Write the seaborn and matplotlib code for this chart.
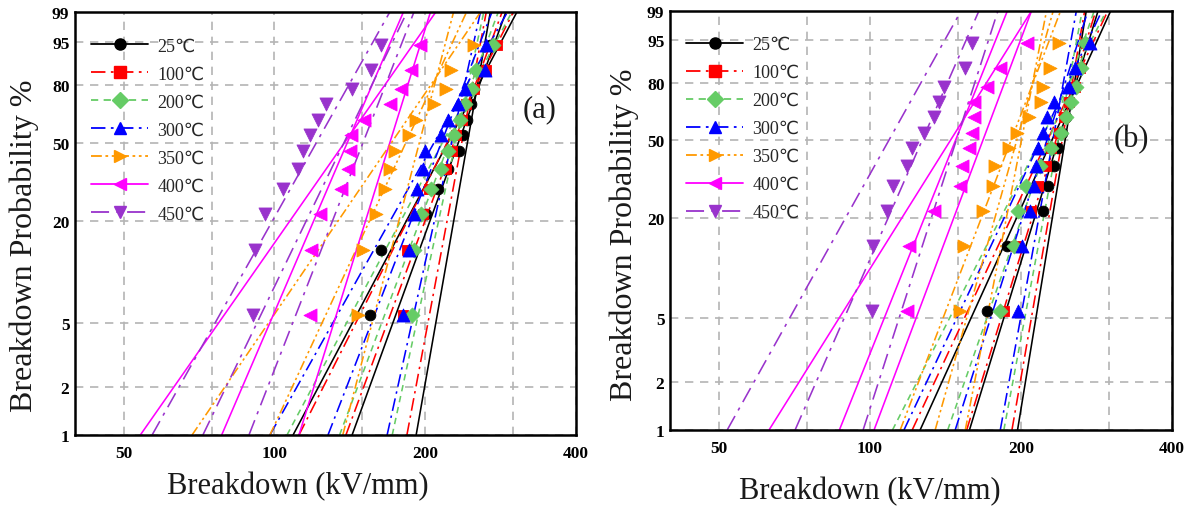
import numpy as np
import matplotlib
matplotlib.use("Agg")
import matplotlib.pyplot as plt
import seaborn as sns
from matplotlib.lines import Line2D
from matplotlib.ticker import FixedLocator, NullFormatter, NullLocator

# ---------------- data ----------------
labels = ["25℃", "100℃", "200℃", "300℃", "350℃", "400℃", "450℃"]
F_pts = [5.6, 13.7, 21.8, 29.8, 37.9, 46.0, 54.0, 62.1, 70.2, 78.2, 86.3, 94.4]
F_line = [1, 99]

# panel (a) breakdown points (kV/mm)
a25 = [155, 163.5, 201, 212, 222, 234, 238, 243, 247, 251, 260, 270]
a100 = [181, 184, 198, 204, 220, 226, 231, 237, 241, 250, 265, 278]
a200 = [188, 190, 196, 206, 215, 222, 228, 235, 240, 248, 253, 273]
a300 = [181, 186, 190, 193, 198, 200, 215, 222, 233, 240, 263, 265]
a350 = [146.9, 150.3, 159.8, 166, 170, 174, 186.2, 191.9, 208.8, 220.3, 225.5, 250.9]
a400 = [117.6, 118.5, 123.2, 136, 140.3, 141.8, 142.4, 151.4, 170.6, 179.2, 187.6, 195.5]
a450 = [90.7, 91.4, 95.7, 104, 111.5, 114.1, 117.6, 122.2, 127, 143.1, 156.2, 163.5]

# panel (a) fitted / bound lines, x at F = 1 % and 99 %
a25_lines = [[109, 305], [143, 290], [192, 270]]
a100_lines = [[112, 300], [139, 285], [184, 265]]
a200_lines = [[106, 298], [135, 280], [172, 262]]
a300_lines = [[98, 292], [128, 272], [168, 258]]
a350_lines = [[68.5, 258], [98, 242], [137, 228]]
a400_lines = [[54, 210], [78.5, 181], [112, 205]]
a450_lines = [[57, 170], [72, 184], [89, 190]]

# panel (b) breakdown points (kV/mm)
b25 = [171, 187.5, 221, 227, 233, 237, 242, 246, 250, 255, 262, 270]
b100 = [185, 196, 210, 216, 224, 230, 238, 244, 250, 256, 262, 270]
b200 = [182, 194, 197, 205, 218, 230, 240, 246, 252, 258, 264, 268]
b300 = [197, 201, 209, 212, 214, 216, 221, 226, 233, 249, 256, 275]
b350 = [151.4, 153.8, 168.5, 176.4, 178, 189, 196.4, 207.2, 219, 221, 228.9, 237.8]
b400 = [118.6, 119.5, 134, 151.4, 152.6, 157.4, 159.8, 161, 161.5, 171.1, 181.9, 205.6]
b450 = [100.9, 101.7, 108.2, 111.5, 118.6, 121.3, 128, 134, 137.1, 140.7, 155, 159.8]

# panel (b) lines, x at F = 1 % and 99 %
b25_lines = [[126, 302], [158, 285], [197, 270]]
b100_lines = [[121.5, 298], [156, 282], [192, 268]]
b200_lines = [[111, 296], [143, 280], [185, 265]]
b300_lines = [[117, 290], [148, 272], [182, 258]]
b350_lines = [[115, 240], [135, 232], [155, 225]]
b400_lines = [[63, 210], [87, 188], [102, 210]]
b450_lines = [[52, 152], [71, 165], [97, 180]]

x_ticks = [50, 100, 200, 400]
x_minor = [75, 150, 300]
y_ticks = [1, 2, 5, 20, 50, 80, 95, 99]

# ---------------- styles ----------------
colors = ["#000000", "#ff0000", "#66cc66", "#0000ff", "#ff9900", "#ff00ff", "#9933cc"]
markers = ["o", "s", "D", "^", ">", "<", "v"]
lstyles = ["-", (0, (8, 3, 1.5, 3)), (0, (4, 3)), (0, (8, 3, 1.5, 3)),
           (0, (6, 2, 1.5, 2, 1.5, 2)), "-", (0, (10, 4, 2, 4))]
msizes = [60, 62, 58, 88, 88, 88, 88]

sns.set_style("white")
plt.rcParams["font.family"] = ["Liberation Serif", "DejaVu Sans"]


def fwd(p):
    p = np.clip(np.asarray(p, dtype=float), 1e-6, 100 - 1e-9)
    return np.log(-np.log(1 - p / 100.0))


def inv(w):
    return 100.0 * (1 - np.exp(-np.exp(np.asarray(w, dtype=float))))


fig = plt.figure(figsize=(11.95, 5.10), dpi=100)
axA = fig.add_axes([0.0628, 0.145, 0.419, 0.829])
axB = fig.add_axes([0.5607, 0.155, 0.42, 0.8216])

panels = [
    (axA, [a25, a100, a200, a300, a350, a400, a450],
     [a25_lines, a100_lines, a200_lines, a300_lines, a350_lines, a400_lines, a450_lines],
     "(a)", (0.928, 0.771), (-0.072, 0.45), (0.444, -0.085)),
    (axB, [b25, b100, b200, b300, b350, b400, b450],
     [b25_lines, b100_lines, b200_lines, b300_lines, b350_lines, b400_lines, b450_lines],
     "(b)", (0.92, 0.695), (-0.062, 0.468), (0.398, -0.11)),
]

for ax, pts, lines, tag, tagpos, ylpos, xlpos in panels:
    for i in range(7):
        for ln in lines[i]:
            sns.lineplot(x=ln, y=F_line, sort=False, estimator=None, ax=ax,
                         color=colors[i], linewidth=1.15, linestyle=lstyles[i], zorder=2)
    for i in range(7):
        sns.scatterplot(x=pts[i], y=F_pts, ax=ax, marker=markers[i], color=colors[i],
                        s=msizes[i], edgecolor=colors[i], linewidth=0.6, zorder=4)

    ax.set_xscale("log")
    ax.set_yscale("function", functions=(fwd, inv))
    ax.set_xlim(40, 400)
    ax.set_ylim(1, 99)
    ax.xaxis.set_major_locator(FixedLocator(x_ticks))
    ax.set_xticklabels([str(v) for v in x_ticks])
    ax.xaxis.set_minor_locator(FixedLocator(x_minor))
    ax.xaxis.set_minor_formatter(NullFormatter())
    ax.yaxis.set_major_locator(FixedLocator(y_ticks))
    ax.set_yticklabels([str(v) for v in y_ticks])
    ax.yaxis.set_minor_locator(NullLocator())
    ax.grid(True, which="both", color="#b4b4b4", linestyle=(0, (5, 4)), linewidth=1.2)
    ax.set_axisbelow(True)
    for sp in ax.spines.values():
        sp.set_color("black")
        sp.set_linewidth(1.8)
    ax.tick_params(axis="both", which="both", direction="out", length=4, width=1.2,
                   colors="black", labelsize=12.5, pad=3)
    ax.tick_params(axis="y", length=0, pad=4)
    for t in ax.get_xticklabels() + ax.get_yticklabels():
        t.set_fontweight("bold")

    ax.set_xlabel("Breakdown (kV/mm)", fontsize=22, color="#1a1a1a")
    ax.set_ylabel("Breakdown Probability %", fontsize=23, color="#1a1a1a")
    ax.yaxis.set_label_coords(*ylpos)
    ax.xaxis.set_label_coords(*xlpos)

    ax.text(tagpos[0], tagpos[1], tag, transform=ax.transAxes, fontsize=22,
            ha="center", va="center", color="#1a1a1a")

    handles = [Line2D([0], [0], color=colors[i], linestyle=lstyles[i], linewidth=1.3,
                      marker=markers[i], markersize=8, markerfacecolor=colors[i],
                      markeredgecolor=colors[i]) for i in range(7)]
    ax.legend(handles, labels, loc="upper left", frameon=False, fontsize=13,
              handlelength=3.15, labelspacing=0.61, borderaxespad=0.5, handletextpad=0.5,
              bbox_to_anchor=(0.0, 0.979))

fig.savefig("out.png", dpi=100)
